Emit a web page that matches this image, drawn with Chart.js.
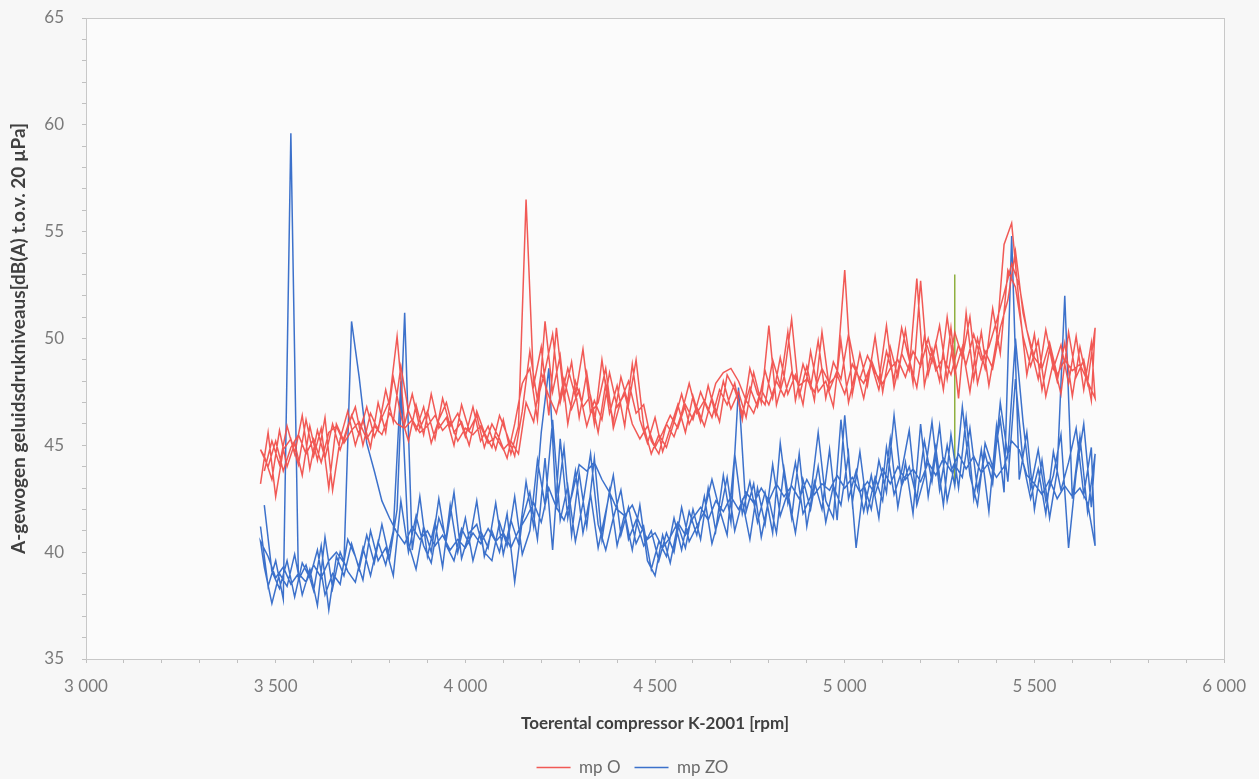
<!DOCTYPE html>
<html>
<head>
<meta charset="utf-8">
<script src="https://cdn.jsdelivr.net/npm/chart.js@4"></script>
<style>
  body { margin: 0; background: #f7f7f7; }
  canvas { display: block; }
</style>
</head>
<body>
<canvas id="myChart" width="1259" height="779"></canvas>
<script>
// rpm grids for the sweeps (A: upward sweeps, B: downward sweeps)
const rpmA = [
    3460, 3480, 3500, 3520, 3540, 3560, 3580, 3600, 3620, 3640,
    3660, 3680, 3700, 3720, 3740, 3760, 3780, 3800, 3820, 3840,
    3860, 3880, 3900, 3920, 3940, 3960, 3980, 4000, 4020, 4040,
    4060, 4080, 4100, 4120, 4140, 4160, 4180, 4200, 4220, 4240,
    4260, 4280, 4300, 4320, 4340, 4360, 4380, 4400, 4420, 4440,
    4460, 4480, 4500, 4520, 4540, 4560, 4580, 4600, 4620, 4640,
    4660, 4680, 4700, 4720, 4740, 4760, 4780, 4800, 4820, 4840,
    4860, 4880, 4900, 4920, 4940, 4960, 4980, 5000, 5020, 5040,
    5060, 5080, 5100, 5120, 5140, 5160, 5180, 5200, 5220, 5240,
    5260, 5280, 5300, 5320, 5340, 5360, 5380, 5400, 5420, 5440,
    5460, 5480, 5500, 5520, 5540, 5560, 5580, 5600, 5620, 5640,
    5660
];
const rpmB = [
    3470, 3490, 3510, 3530, 3550, 3570, 3590, 3610, 3630, 3650,
    3670, 3690, 3710, 3730, 3750, 3770, 3790, 3810, 3830, 3850,
    3870, 3890, 3910, 3930, 3950, 3970, 3990, 4010, 4030, 4050,
    4070, 4090, 4110, 4130, 4150, 4170, 4190, 4210, 4230, 4250,
    4270, 4290, 4310, 4330, 4350, 4370, 4390, 4410, 4430, 4450,
    4470, 4490, 4510, 4530, 4550, 4570, 4590, 4610, 4630, 4650,
    4670, 4690, 4710, 4730, 4750, 4770, 4790, 4810, 4830, 4850,
    4870, 4890, 4910, 4930, 4950, 4970, 4990, 5010, 5030, 5050,
    5070, 5090, 5110, 5130, 5150, 5170, 5190, 5210, 5230, 5250,
    5270, 5290, 5310, 5330, 5350, 5370, 5390, 5410, 5430, 5450,
    5470, 5490, 5510, 5530, 5550, 5570, 5590, 5610, 5630, 5650
];

// mp O, dB(A)
const mpO_1 = [
    43.2, 45.6, 42.6, 44.8, 45.3, 44.1, 46.2, 44.5, 45.8, 43.0,
    46.0, 45.2, 46.4, 45.5, 46.8, 45.4, 46.3, 47.1, 50.1, 46.0,
    47.4, 45.8, 46.6, 45.3, 47.2, 45.9, 46.5, 45.4, 46.8, 45.2,
    45.9, 44.8, 46.2, 44.6, 45.9, 56.5, 47.8, 49.6, 46.4, 50.5,
    47.2, 48.9, 46.3, 48.4, 46.0, 49.0, 46.5, 47.8, 45.9, 48.8,
    46.2, 45.1, 46.3, 44.7, 45.8, 46.9, 45.6, 47.3, 46.1, 47.8,
    46.4, 48.0, 46.7, 47.5, 46.3, 48.4, 47.0, 50.6, 46.9, 48.2,
    50.9, 47.3, 48.7, 47.1, 50.3, 47.6, 48.5, 53.2, 47.4, 49.3,
    47.8, 50.1, 47.5, 49.6, 48.2, 50.4, 47.9, 52.7, 48.3, 49.8,
    47.6, 50.5, 47.2, 51.2, 48.1, 50.3, 47.8, 49.9, 54.4, 55.4,
    51.6, 48.3, 50.2, 47.6, 49.5, 48.0, 49.8, 47.3, 49.6, 47.9,
    50.5
];
const mpO_2 = [
    44.5, 43.4, 45.7, 44.0, 45.1, 43.6, 45.9, 44.3, 46.3, 42.9,
    45.3, 46.6, 45.0, 46.2, 44.9, 47.0, 45.6, 48.2, 46.4, 45.2,
    46.9, 45.5, 47.4, 45.8, 46.3, 45.0, 46.9, 45.7, 46.4, 44.9,
    46.0, 45.3, 44.4, 46.0, 47.9, 48.6, 46.2, 50.8, 47.5, 49.2,
    46.0, 48.0, 46.8, 47.3, 45.6, 47.9, 46.1, 48.2, 46.9, 49.0,
    45.9, 44.6, 45.5, 44.9, 46.1, 47.4, 46.0, 46.8, 45.9, 47.2,
    46.1, 48.3, 47.6, 46.5, 47.7, 46.8, 48.5, 47.2, 49.1, 47.4,
    48.3, 46.9, 49.4, 47.5, 48.0, 46.8, 49.9, 47.0, 48.6, 47.2,
    49.0, 48.0, 50.6, 47.7, 49.3, 48.5, 52.8, 47.8, 49.5, 48.0,
    51.0, 48.4, 49.6, 47.5, 50.0, 48.6, 51.4, 49.3, 53.2, 52.4,
    50.1, 48.7, 49.9, 47.3, 48.9, 47.4, 50.3, 48.2, 49.0, 47.1
];
const mpO_3 = [
    44.8, 44.0, 45.2, 43.8, 44.9, 45.5, 44.6, 45.3, 44.2, 45.6,
    45.9, 45.1, 45.7, 46.1, 45.3, 45.9, 45.5, 46.5, 46.0, 45.8,
    46.2, 45.6, 45.9, 46.4, 45.7, 46.1, 45.2, 45.8, 45.5, 45.9,
    45.1, 45.4, 44.8, 45.2, 44.6, 47.0, 46.1, 48.4, 47.3, 46.5,
    48.1, 46.7, 47.6, 45.9, 47.1, 46.2, 48.4, 46.8, 47.4, 46.0,
    45.3, 45.9, 44.9, 45.6, 46.4, 45.8, 46.9, 46.2, 47.5, 46.6,
    47.9, 48.4, 48.6, 48.0, 47.1, 46.5, 47.6, 46.9, 48.0, 47.3,
    48.4, 47.8, 48.1, 47.5, 48.6, 47.9, 48.3, 47.4, 48.8, 48.1,
    49.2, 48.4, 47.9, 48.6, 49.0, 48.2, 49.4, 48.7, 50.0, 48.5,
    49.1, 48.3, 49.7, 48.8, 50.2, 49.0, 49.6, 50.8, 52.1, 53.5,
    52.5, 50.4, 49.1, 48.6, 49.8, 48.3, 49.0, 48.5, 48.8, 48.0,
    47.2
];
const mpO_4 = [
    43.8, 45.2, 44.1, 45.9, 44.6, 46.4, 43.9, 45.7, 44.4, 46.0,
    44.8, 45.9, 46.8, 45.0, 46.5, 45.7, 47.6, 46.1, 48.7, 46.6,
    45.7, 46.8, 45.1, 46.2, 47.0, 45.6, 46.1, 45.0, 46.6, 45.6,
    44.9, 46.4, 45.5, 44.5, 46.6, 49.4, 47.1, 48.5, 50.2, 47.0,
    48.6, 47.3, 49.5, 46.5, 47.0, 48.6, 45.8, 47.1, 48.0, 46.5,
    46.9, 45.2, 44.6, 46.0, 45.4, 46.5, 47.9, 46.5, 47.1, 46.3,
    47.6, 46.9, 47.9, 46.2, 48.6, 47.4, 46.9, 49.0, 47.8, 50.3,
    47.1, 48.8, 47.7, 49.9, 47.2, 48.9, 48.1, 50.2, 48.4, 47.9,
    48.8, 47.6, 49.4, 48.1, 50.5, 49.0, 47.7, 50.1, 48.9, 50.6,
    48.1, 50.3, 49.1, 51.0, 47.9, 49.4, 48.6, 50.5, 51.8, 54.1,
    51.2, 49.6, 48.1, 50.4, 48.6, 49.7, 47.9, 50.1, 47.6, 49.8
];

// mp ZO, dB(A)
const mpZO_1 = [
    41.2, 38.4, 39.6, 37.8, 59.6, 38.7, 39.4, 38.2, 40.3, 37.3,
    39.8, 38.9, 40.4, 39.2, 40.8, 39.5, 41.3, 39.7, 42.0, 51.2,
    40.1, 42.6, 39.8, 41.4, 39.3, 42.2, 40.0, 41.6, 39.6, 41.0,
    40.2, 42.3, 39.9, 41.5, 40.4, 43.3, 41.2, 45.6, 48.6, 42.0,
    44.9, 40.8, 43.7, 41.2, 44.4, 40.6, 42.9, 40.3, 41.8, 40.1,
    42.2, 39.6, 38.9, 40.8, 39.5, 41.3, 40.2, 42.0, 40.6, 43.0,
    41.0, 43.6, 41.4, 47.7, 41.9, 43.2, 40.7, 42.5, 40.9, 43.9,
    41.6, 44.6, 41.2, 43.3, 42.0, 44.8, 41.5, 46.4, 42.3, 44.7,
    41.9, 43.5, 42.4, 45.3, 42.1, 44.2, 41.8, 46.0, 42.6, 44.9,
    42.2, 45.5, 43.0, 46.3, 42.5, 44.8, 41.9, 45.9, 42.8, 54.8,
    43.4, 45.6, 42.0, 44.3, 41.6, 43.8, 52.0, 42.5, 45.4, 41.9,
    44.6
];
const mpZO_2 = [
    39.3, 37.6, 39.0, 38.4, 39.9, 38.0, 39.2, 37.5, 40.7, 38.3,
    40.0, 39.1, 38.6, 40.2, 38.9, 40.5, 39.4, 41.0, 48.0, 40.4,
    39.2, 41.2, 40.0, 42.5, 40.3, 39.6, 41.1, 40.4, 42.4, 39.8,
    41.0, 40.0, 41.8, 38.6, 41.5, 42.8, 40.6, 44.4, 40.1, 45.3,
    41.6, 43.8, 40.9, 42.7, 40.2, 41.9, 43.6, 40.8, 42.1, 40.4,
    41.2, 39.2, 40.5, 39.8, 41.6, 40.1, 41.9, 40.8, 42.6, 40.4,
    41.7, 43.5, 41.0, 42.4, 40.6, 43.0, 41.3, 44.1, 41.7, 42.8,
    40.9, 43.4, 42.0, 44.0, 41.4, 43.1, 42.2, 44.6, 40.2, 43.2,
    42.0, 44.3, 42.8, 46.4, 43.1, 44.0, 42.5, 45.2, 43.3, 45.9,
    42.4, 44.1, 43.5, 45.8, 42.9, 44.6, 43.2, 47.0, 44.5, 50.0,
    46.1, 43.0, 44.8, 42.4, 43.6, 45.5, 40.2, 43.7, 46.0, 42.1
];
const mpZO_3 = [
    40.5, 39.8, 38.8, 39.3, 38.5, 39.0, 38.6, 39.4, 38.8, 39.6,
    40.0, 39.5, 50.8, 48.2, 45.1, 43.8, 42.4, 41.6, 40.9, 40.4,
    41.2, 40.6, 41.0, 40.3, 40.8, 40.1, 40.6, 40.2, 40.9, 40.4,
    41.1, 40.5, 40.9, 40.2, 41.0, 41.6, 42.3, 41.4, 43.0, 42.1,
    41.5, 42.6, 44.1, 43.8, 44.2, 43.4, 42.8, 42.0, 41.7, 42.2,
    41.3, 40.6, 40.9, 40.2, 40.7, 41.4, 40.8, 41.6, 42.1, 41.5,
    42.4, 41.9, 42.6, 42.0, 42.8, 42.3, 43.0, 42.4, 43.2, 42.6,
    43.1, 42.5, 43.4, 42.7, 43.2, 42.9, 43.6, 43.0, 43.5, 42.8,
    43.3, 42.7, 43.9, 43.2, 44.0, 43.4, 43.9, 43.3, 44.2, 43.6,
    44.4, 43.8, 44.6, 43.9, 44.5, 43.7, 44.2, 43.5, 44.0, 45.2,
    44.8, 43.6, 43.2, 42.7, 43.4, 42.5, 43.1, 42.6, 43.0, 42.3,
    40.3
];
const mpZO_4 = [
    42.2, 39.1, 38.3, 39.6, 37.9, 39.5, 38.8, 40.1, 38.0, 39.0,
    38.5, 40.6, 39.8, 38.7, 41.0, 39.6, 40.2, 38.9, 42.4, 40.0,
    41.7, 40.3, 39.5, 41.6, 40.6, 42.8, 39.7, 40.9, 41.3, 40.0,
    39.6, 41.4, 40.3, 42.6, 39.9, 41.0, 44.3, 42.2, 46.2, 41.5,
    43.1, 40.5, 42.3, 44.6, 41.3, 40.1, 41.6, 42.9, 40.6, 41.5,
    40.3, 41.0, 39.6, 40.9, 40.0, 42.1, 40.5, 41.2, 41.9, 43.4,
    42.0, 40.8, 44.6, 41.8, 43.3, 41.4, 42.8, 40.9, 45.1, 42.3,
    44.2, 41.8, 42.6, 45.6, 42.4, 41.6, 46.2, 42.5, 43.8, 41.9,
    43.6, 41.6, 44.9, 42.7, 43.8, 45.7, 42.2, 43.5, 46.1, 42.9,
    45.0, 43.1, 46.8, 43.6, 42.2, 45.1, 44.0, 46.2, 43.3, 48.1,
    44.2, 42.5, 43.9, 41.8, 44.7, 42.9, 44.2, 45.8, 42.7, 44.9
];

// short jump between the two series around 5290 rpm
const jumpRpm = [5290, 5290];
const jumpLevel = [53.0, 43.2];

const toPoints = (xs, ys) => xs.map((x, i) => ({ x: x, y: ys[i] }));

// one continuous trace per measuring point: up, down, up, down
const buildTrace = (p1, p2, p3, p4) => [
    ...toPoints(rpmA, p1),
    ...toPoints(rpmB, p2).reverse(),
    ...toPoints(rpmA, p3),
    ...toPoints(rpmB, p4).reverse()
];

const fmtThousands = (v) => String(v).replace(/\B(?=(\d{3})+(?!\d))/g, ' ');

const bgPlugin = {
    id: 'bgAndFrame',
    afterLayout(chart) {
        // legend sits a bit right of and below the default spot
        const lg = chart.legend;
        if (lg) {
            lg.left += 20; lg.right += 20;
            lg.top += 7; lg.bottom += 7;
        }
    },
    beforeDraw(chart) {
        const ctx = chart.ctx;
        ctx.save();
        ctx.fillStyle = '#f7f7f7';
        ctx.fillRect(0, 0, chart.width, chart.height);
        ctx.fillStyle = '#fbfbfb';
        const a = chart.chartArea;
        ctx.fillRect(a.left, a.top, a.right - a.left, a.bottom - a.top);
        ctx.restore();
    },
    afterDraw(chart) {
        const ctx = chart.ctx;
        const a = chart.chartArea;
        ctx.save();
        ctx.strokeStyle = '#c8c8c8';
        ctx.lineWidth = 1;
        ctx.strokeRect(Math.round(a.left) + 0.5, Math.round(a.top) + 0.5,
            Math.round(a.right - a.left), Math.round(a.bottom - a.top));
        ctx.restore();
    }
};

const ctx = document.getElementById('myChart').getContext('2d');
new Chart(ctx, {
    type: 'line',
    data: {
        datasets: [{
            label: 'mp O',
            data: buildTrace(mpO_1, mpO_2, mpO_3, mpO_4),
            borderColor: 'rgba(240, 80, 76, 0.95)',
            backgroundColor: 'rgba(240, 80, 76, 0.95)',
            borderWidth: 1.5,
            pointRadius: 0,
            pointStyle: 'line',
            tension: 0
        }, {
            label: 'mp ZO',
            data: buildTrace(mpZO_1, mpZO_2, mpZO_3, mpZO_4),
            borderColor: 'rgba(50, 105, 200, 0.95)',
            backgroundColor: 'rgba(50, 105, 200, 0.95)',
            borderWidth: 1.5,
            pointRadius: 0,
            pointStyle: 'line',
            tension: 0
        }, {
            label: 'overgang',
            data: toPoints(jumpRpm, jumpLevel),
            borderColor: '#8fb040',
            borderWidth: 1.5,
            pointRadius: 0,
            tension: 0
        }]
    },
    options: {
        responsive: false,
        animation: false,
        layout: {
            padding: { left: 0, right: 34, top: 18, bottom: 0 }
        },
        plugins: {
            legend: {
                position: 'bottom',
                labels: {
                    filter: (item) => item.datasetIndex < 2,
                    usePointStyle: true,
                    pointStyleWidth: 34,
                    boxHeight: 8,
                    padding: 14,
                    color: '#6a6a6a',
                    font: { family: 'Lato', size: 17 }
                }
            },
            tooltip: { enabled: false }
        },
        scales: {
            x: {
                type: 'linear',
                min: 3000,
                max: 6000,
                ticks: {
                    stepSize: 100,
                    autoSkip: false,
                    maxRotation: 0,
                    padding: 13,
                    color: '#7a7a7a',
                    font: { family: 'Lato', size: 17 },
                    callback: (v) => (v % 500 === 0 ? fmtThousands(v) : '')
                },
                grid: {
                    drawOnChartArea: false,
                    tickLength: 4,
                    color: '#c0c0c0'
                },
                border: { color: '#b8b8b8' },
                title: {
                    display: true,
                    text: 'Toerental compressor K-2001 [rpm]',
                    color: '#404040',
                    font: { family: 'Lato', size: 17, weight: 'bold' },
                    padding: { top: 10 }
                },
                afterFit: (scale) => { scale.height = 79; }
            },
            y: {
                min: 35,
                max: 65,
                ticks: {
                    stepSize: 1,
                    autoSkip: false,
                    padding: 18,
                    color: '#7a7a7a',
                    font: { family: 'Lato', size: 17 },
                    callback: (v) => (v % 5 === 0 ? v : '')
                },
                grid: {
                    drawOnChartArea: false,
                    tickLength: 4,
                    color: '#c0c0c0'
                },
                border: { color: '#b8b8b8' },
                title: {
                    display: true,
                    text: 'A-gewogen geluidsdrukniveaus[dB(A) t.o.v. 20 µPa]',
                    color: '#404040',
                    font: { family: 'Lato', size: 19, weight: 'bold' },
                    padding: 7
                },
                afterFit: (scale) => {
                    scale.width = 86;
                    scale.paddingTop = 0;
                    scale.paddingBottom = 0;
                }
            }
        }
    },
    plugins: [bgPlugin]
});
</script>
</body>
</html>
